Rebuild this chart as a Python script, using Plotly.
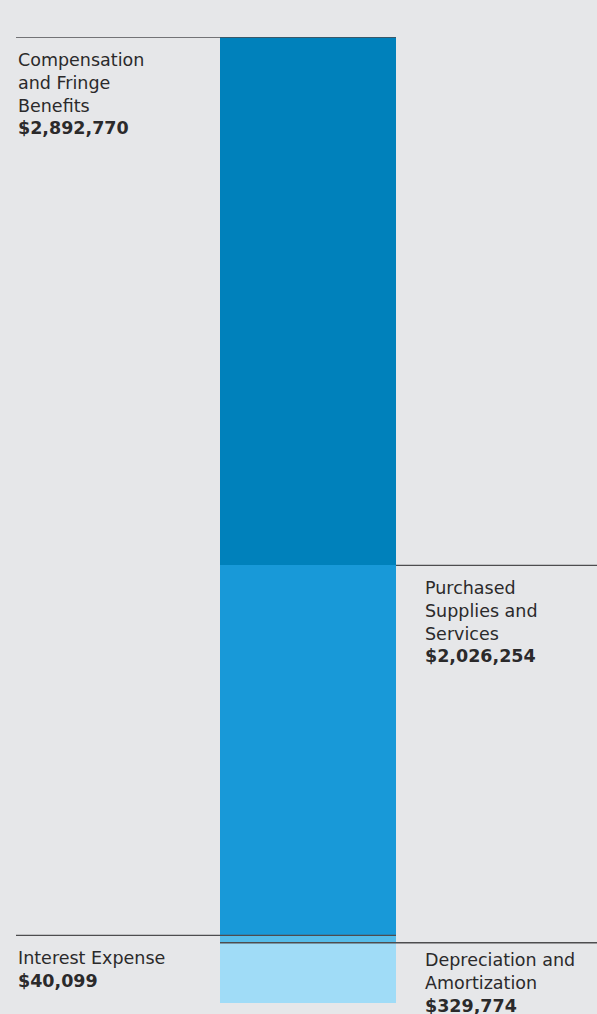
import plotly.graph_objects as go

# Data (stack order bottom -> top)
categories = ["Depreciation and Amortization", "Interest Expense",
              "Purchased Supplies and Services", "Compensation and Fringe Benefits"]
values = [329774, 40099, 2026254, 2892770]
label_texts = ["Depreciation and<br>Amortization<br><b>$329,774</b>",
               "Interest Expense<br><b>$40,099</b>",
               "Purchased<br>Supplies and<br>Services<br><b>$2,026,254</b>",
               "Compensation<br>and Fringe<br>Benefits<br><b>$2,892,770</b>"]
colors = ["#a0dcf7", "#55bce9", "#1899d8", "#0081bb"]

W, H = 597, 1014
BG = "#e6e7e9"
FONT = "DejaVu Sans"

fig = go.Figure()
for cat, v, c in zip(categories, values, colors):
    fig.add_trace(go.Bar(x=["Expenses"], y=[v], name=cat, marker=dict(color=c, line=dict(width=0)),
                         width=1, hoverinfo="name+y"))

total = sum(values)
cum = []
s = 0
for v in values:
    s += v
    cum.append(s)

bx0, bx1 = 220 / W, 396 / W
left0 = 16 / W

# (line x0, line x1, text x, text yshift)
spec = {
    3: (left0, bx1, 16 / W, -11),   # compensation
    2: (bx1, 1.0, 423 / W, -11),    # purchased
    1: (left0, bx1, 16 / W, -11),   # interest
    0: (bx0, 1.0, 423 / W, -5),     # depreciation
}
for i, (x0, x1, tx, ys) in spec.items():
    fig.add_shape(type="line", xref="paper", yref="y", x0=x0, x1=x1, y0=cum[i], y1=cum[i],
                  line=dict(color="#4d4d4f", width=1.3), layer="above")
    fig.add_annotation(xref="paper", yref="y", x=tx, y=cum[i], text=label_texts[i],
                       showarrow=False, xanchor="left", yanchor="top", align="left",
                       yshift=ys, font=dict(family=FONT, size=17.5, color="#2b2a2b"))

fig.update_layout(
    width=W, height=H, barmode="stack", showlegend=False,
    paper_bgcolor=BG, plot_bgcolor=BG,
    margin=dict(l=0, r=0, t=0, b=0),
    xaxis=dict(domain=[bx0, bx1], range=[-0.5, 0.5], visible=False, fixedrange=True),
    yaxis=dict(domain=[(H - 1003) / H, (H - 37) / H], range=[0, total], visible=False, fixedrange=True),
    bargap=0,
)
fig.write_html("out.html", config={"displayModeBar": False},
               post_script="document.body.style.margin='0';document.body.style.background='#e6e7e9';")
